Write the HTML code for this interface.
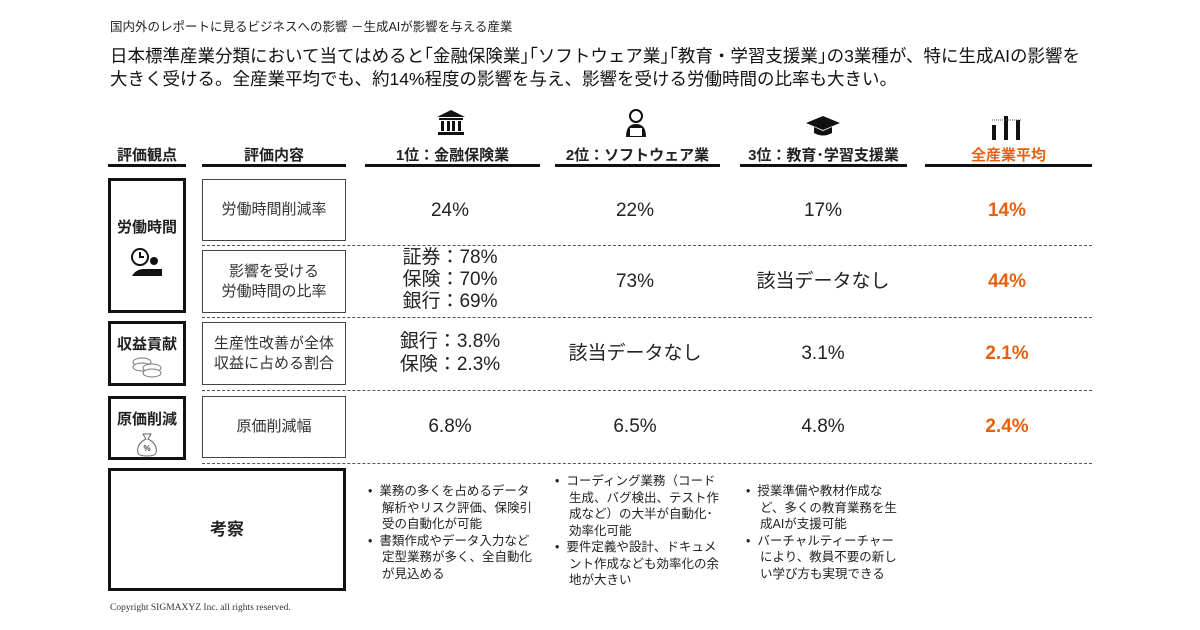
<!DOCTYPE html>
<html><head><meta charset="utf-8">
<style>
body{margin:0;width:1200px;height:630px;background:#fff;position:relative;overflow:hidden;font-family:"Liberation Sans","Noto Sans CJK JP",sans-serif;color:#222}
.a{position:absolute}
.hd{position:absolute;top:144px;font-weight:bold;font-size:15px;text-align:center;color:#222}
.ul{position:absolute;top:164px;height:3px;background:#111}
.bx{position:absolute;border:1px solid #444;box-sizing:border-box;display:flex;align-items:center;justify-content:center;text-align:center;font-size:15px;line-height:20px;color:#333}
.lb{position:absolute;border:3px solid #111;box-sizing:border-box;text-align:center;font-weight:bold;font-size:15px}
.dl{position:absolute;left:202px;width:890px;border-top:1px dashed #555;height:0}
.v{position:absolute;font-size:19px;text-align:center;width:180px;line-height:23px;color:#222}
.o{color:#e8600f;font-weight:bold}
.bl{position:absolute;font-size:12.5px;line-height:16.5px;color:#222}
.bl div{padding-left:14px;text-indent:-14px}
</style></head><body>
<div class="a" style="left:110px;top:16px;font-size:12.5px">国内外のレポートに見るビジネスへの影響 －生成AIが影響を与える産業</div>
<div class="a" style="left:110px;top:45px;font-size:17.5px;line-height:23px;color:#111">日本標準産業分類において当てはめると｢金融保険業｣｢ソフトウェア業｣｢教育・学習支援業｣の3業種が、特に生成AIの影響を<br>大きく受ける。全産業平均でも、約14%程度の影響を与え、影響を受ける労働時間の比率も大きい。</div>

<div class="hd" style="left:108px;width:78px">評価観点</div>
<div class="hd" style="left:202px;width:144px">評価内容</div>
<div class="hd" style="left:365px;width:175px">1位：金融保険業</div>
<div class="hd" style="left:555px;width:165px">2位：ソフトウェア業</div>
<div class="hd" style="left:735px;width:177px">3位：教育･学習支援業</div>
<div class="hd" style="left:925px;width:167px;color:#e8600f">全産業平均</div>
<div class="ul" style="left:108px;width:78px"></div><div class="ul" style="left:202px;width:144px"></div>
<div class="ul" style="left:365px;width:175px"></div><div class="ul" style="left:555px;width:165px"></div>
<div class="ul" style="left:740px;width:167px"></div><div class="ul" style="left:925px;width:167px"></div>

<svg class="a" style="left:437px;top:110px" width="28" height="26" viewBox="0 0 28 26"><polygon points="14,0 0,7 28,7" fill="#111"/><rect x="2" y="8" width="24" height="2" fill="#111"/><rect x="4" y="11" width="3" height="10" fill="#111"/><rect x="10" y="11" width="3" height="10" fill="#111"/><rect x="15" y="11" width="3" height="10" fill="#111"/><rect x="21" y="11" width="3" height="10" fill="#111"/><rect x="1" y="22" width="26" height="3" fill="#111"/></svg>
<svg class="a" style="left:624px;top:108px" width="24" height="30" viewBox="0 0 24 30"><circle cx="12" cy="8" r="6" fill="none" stroke="#111" stroke-width="2"/><path d="M2 29 Q2 16 12 16 Q22 16 22 29Z" fill="#111"/><rect x="6" y="20" width="12" height="8" fill="#fff"/></svg>
<svg class="a" style="left:806px;top:116px" width="34" height="22" viewBox="0 0 34 22"><polygon points="17,0 34,7 17,14 0,7" fill="#111"/><path d="M8 11 V17 Q17 22 26 17 V11 L17 15Z" fill="#111"/></svg>
<svg class="a" style="left:990px;top:114px" width="34" height="26" viewBox="0 0 34 26"><rect x="2" y="11" width="4" height="15" fill="#111"/><rect x="14" y="2" width="4" height="24" fill="#111"/><rect x="26" y="6" width="4" height="20" fill="#111"/><path d="M2 6 H32" stroke="#555" stroke-dasharray="1,1"/></svg>

<div class="lb" style="left:108px;top:178px;width:78px;height:135px;padding-top:35px">労働時間
<svg style="display:block;margin:10px auto 0" width="34" height="30" viewBox="0 0 34 30"><circle cx="10" cy="10" r="8" fill="#fff" stroke="#111" stroke-width="2"/><path d="M10 5V10H14" stroke="#111" stroke-width="2" fill="none"/><circle cx="24" cy="14" r="4" fill="#111"/><path d="M2 29 Q6 22 14 22 H32 V29Z" fill="#111"/></svg></div>
<div class="lb" style="left:108px;top:321px;width:78px;height:65px;padding-top:9px">収益貢献
<svg style="display:block;margin:2px auto 0" width="34" height="22" viewBox="0 0 34 22"><ellipse cx="12" cy="6" rx="9" ry="4" fill="#fff" stroke="#777"/><ellipse cx="12" cy="11" rx="9" ry="4" fill="#fff" stroke="#777"/><ellipse cx="22" cy="12" rx="9" ry="4" fill="#fff" stroke="#777"/><ellipse cx="22" cy="17" rx="9" ry="4" fill="#fff" stroke="#777"/></svg></div>
<div class="lb" style="left:108px;top:396px;width:78px;height:64px;padding-top:9px">原価削減
<svg style="display:block;margin:2px auto 0" width="26" height="26" viewBox="0 0 26 26"><path d="M9 3 L17 3 L14 8 Q24 13 22 22 Q21 25 13 25 Q5 25 4 22 Q2 13 12 8Z" fill="#fff" stroke="#666"/><text x="13" y="20" font-size="8" text-anchor="middle" fill="#444">%</text></svg></div>
<div class="lb" style="left:108px;top:468px;width:238px;height:123px;line-height:117px;font-size:17px">考察</div>

<div class="bx" style="left:202px;top:179px;width:144px;height:62px">労働時間削減率</div>
<div class="bx" style="left:202px;top:250px;width:144px;height:63px">影響を受ける<br>労働時間の比率</div>
<div class="bx" style="left:202px;top:322px;width:144px;height:63px">生産性改善が全体<br>収益に占める割合</div>
<div class="bx" style="left:202px;top:396px;width:144px;height:62px">原価削減幅</div>

<div class="dl" style="top:245px"></div><div class="dl" style="top:317px"></div>
<div class="dl" style="top:390px"></div><div class="dl" style="top:463px"></div>

<div class="v" style="left:360px;top:199px">24%</div>
<div class="v" style="left:545px;top:199px">22%</div>
<div class="v" style="left:733px;top:199px">17%</div>
<div class="v o" style="left:917px;top:199px">14%</div>

<div class="v" style="left:360px;top:247px;line-height:22px">証券：78%<br>保険：70%<br>銀行：69%</div>
<div class="v" style="left:545px;top:270px">73%</div>
<div class="v" style="left:733px;top:270px">該当データなし</div>
<div class="v o" style="left:917px;top:270px">44%</div>

<div class="v" style="left:360px;top:330px;line-height:23px">銀行：3.8%<br>保険：2.3%</div>
<div class="v" style="left:545px;top:342px">該当データなし</div>
<div class="v" style="left:733px;top:342px">3.1%</div>
<div class="v o" style="left:917px;top:342px">2.1%</div>

<div class="v" style="left:360px;top:415px">6.8%</div>
<div class="v" style="left:545px;top:415px">6.5%</div>
<div class="v" style="left:733px;top:415px">4.8%</div>
<div class="v o" style="left:917px;top:415px">2.4%</div>

<div class="bl" style="left:368px;top:483px;width:166px"><div>•&nbsp;&nbsp;業務の多くを占めるデータ解析やリスク評価、保険引受の自動化が可能</div><div>•&nbsp;&nbsp;書類作成やデータ入力など定型業務が多く、全自動化が見込める</div></div>
<div class="bl" style="left:555px;top:473px;width:166px"><div>•&nbsp;&nbsp;コーディング業務（コード生成、バグ検出、テスト作成など）の大半が自動化･効率化可能</div><div>•&nbsp;&nbsp;要件定義や設計、ドキュメント作成なども効率化の余地が大きい</div></div>
<div class="bl" style="left:746px;top:483px;width:154px"><div>•&nbsp;&nbsp;授業準備や教材作成など、多くの教育業務を生成AIが支援可能</div><div>•&nbsp;&nbsp;バーチャルティーチャーにより、教員不要の新しい学び方も実現できる</div></div>

<div class="a" style="left:110px;top:603px;font-size:9.5px;font-family:'Liberation Serif',serif;color:#333">Copyright SIGMAXYZ Inc. all rights reserved.</div>
</body></html>
